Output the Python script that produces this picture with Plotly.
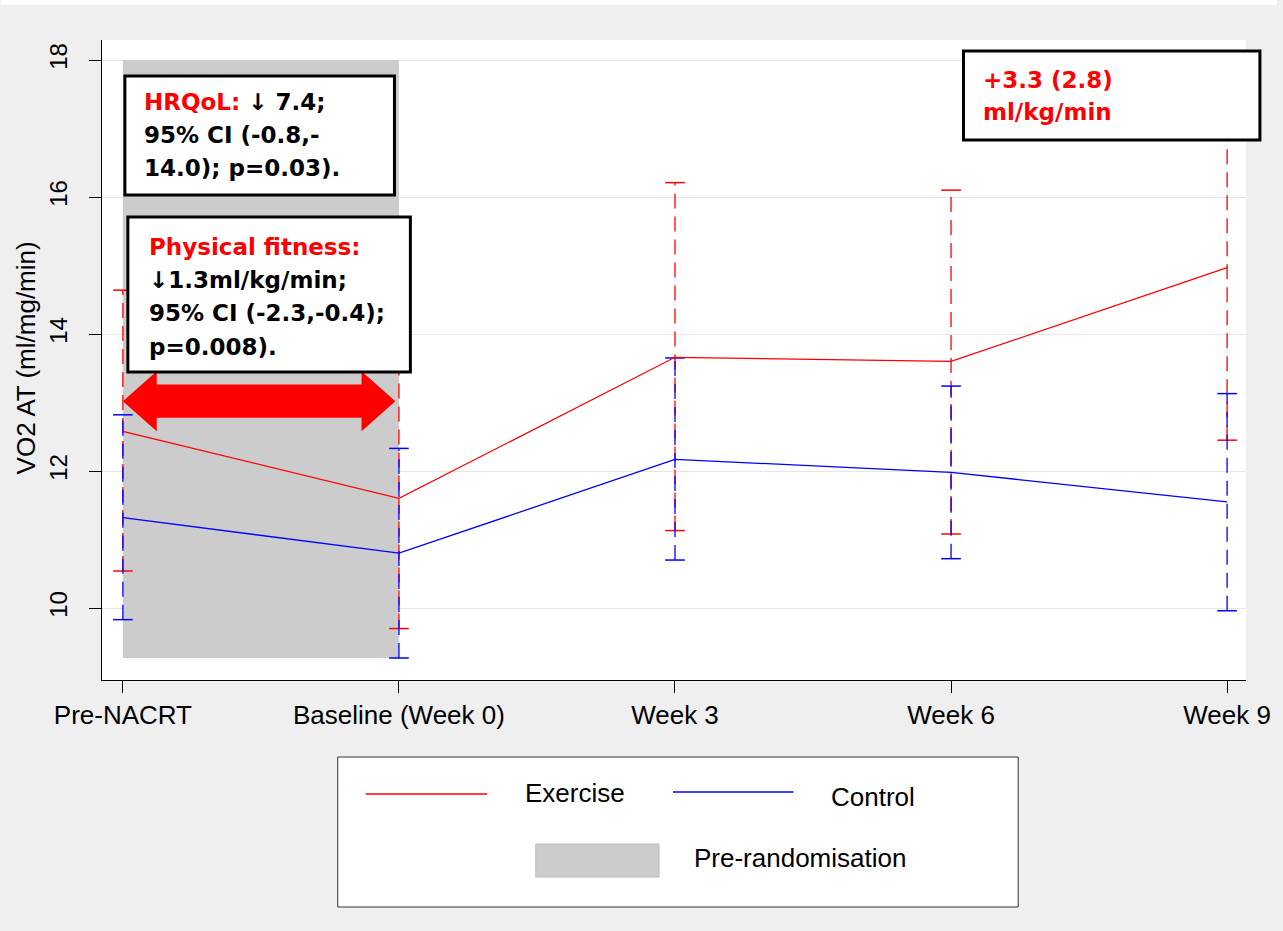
import plotly.graph_objects as go

# Time points and group summaries (mean with 95% CI), VO2 at anaerobic threshold
categories = ["Pre-NACRT", "Baseline (Week 0)", "Week 3", "Week 6", "Week 9"]
exercise_mean = [12.58, 11.60, 13.66, 13.60, 14.97]
exercise_lo = [10.54, 9.70, 11.13, 11.08, 12.45]
exercise_hi = [14.64, 13.50, 16.21, 16.10, 17.49]
control_mean = [11.32, 10.80, 12.17, 11.98, 11.55]
control_lo = [9.83, 9.27, 10.70, 10.72, 9.96]
control_hi = [12.82, 12.33, 13.65, 13.24, 13.13]
y_ticks = [10, 12, 14, 16, 18]

RED = "#ff0000"
BLUE = "#0000ff"
W, H = 1283, 931
L, R, T, B = 102, 1252, 40, 680  # plot area in pixels

xs = list(range(len(categories)))


def px(x):
    return (x - L) / (R - L)


def py(y):
    return (B - y) / (B - T)


def whisker_path(lo, hi):
    xx, yy = [], []
    for i, (a, b) in enumerate(zip(lo, hi)):
        xx += [xs[i], xs[i], None]
        yy += [a, b, None]
    return xx, yy


fig = go.Figure()

for lo, hi, col in [(exercise_lo, exercise_hi, RED), (control_lo, control_hi, BLUE)]:
    wx, wy = whisker_path(lo, hi)
    fig.add_trace(go.Scatter(x=wx, y=wy, mode="lines", showlegend=False,
                             line=dict(color=col, width=1.3, dash="15px,8px"),
                             hoverinfo="skip"))
    fig.add_trace(go.Scatter(x=xs + xs, y=lo + hi, mode="markers", showlegend=False,
                             marker=dict(symbol="line-ew", size=14,
                                         line=dict(color=col, width=1.5)),
                             hoverinfo="skip"))

fig.add_trace(go.Scatter(x=xs, y=exercise_mean, mode="lines", name="Exercise",
                         line=dict(color=RED, width=1.3), showlegend=False))
fig.add_trace(go.Scatter(x=xs, y=control_mean, mode="lines", name="Control",
                         line=dict(color=BLUE, width=1.3), showlegend=False))

shapes = []
# pre-randomisation period
shapes.append(dict(type="rect", xref="x", yref="y", x0=0, x1=1, y0=min(control_lo[:2]), y1=18,
                   fillcolor="#cccccc", line=dict(width=0), layer="between"))

# double-headed arrow across the pre-randomisation period
c, sh, hh = 13.02, 0.241, 0.438
t0, t1 = 0.0, 0.987
hl = 0.1225
arrow = (f"M {t0},{c} L {t0+hl},{c+hh} L {t0+hl},{c+sh} L {t1-hl},{c+sh} L {t1-hl},{c+hh} "
         f"L {t1},{c} L {t1-hl},{c-hh} L {t1-hl},{c-sh} L {t0+hl},{c-sh} L {t0+hl},{c-hh} Z")
shapes.append(dict(type="path", xref="x", yref="y", path=arrow, fillcolor=RED,
                   line=dict(width=0), layer="above"))


def box(x0, y0, x1, y1, lw=3, color="black", fill="white"):
    return dict(type="rect", xref="paper", yref="paper", x0=px(x0), x1=px(x1),
                y0=py(y1), y1=py(y0), fillcolor=fill, line=dict(color=color, width=lw),
                layer="above")


shapes.append(box(125, 76, 396, 195))
shapes.append(box(128, 217, 412, 372))
shapes.append(box(968, 51, 1266, 140))

# legend frame and swatches
shapes.append(box(339, 757, 1023, 907, lw=1, color="#333333"))
shapes.append(dict(type="line", xref="paper", yref="paper", x0=px(367), x1=px(489),
                   y0=py(794), y1=py(794), line=dict(color=RED, width=1.5), layer="above"))
shapes.append(dict(type="line", xref="paper", yref="paper", x0=px(676), x1=px(797),
                   y0=py(792), y1=py(792), line=dict(color=BLUE, width=1.5), layer="above"))
shapes.append(box(538, 844, 662, 877, lw=1, color="#bdbdbd", fill="#cccccc"))
# thin light strip at the top edge
shapes.append(dict(type="rect", xref="paper", yref="paper", x0=px(0), x1=px(W),
                   y0=py(5), y1=py(0), fillcolor="white", line=dict(width=0), layer="below"))

BOX_FONT = "DejaVu Sans"
SANS = "Liberation Sans, Arial"

annotations = []


def text(x, y, s, size=23, color="black", family=BOX_FONT, bold=True, anchor="left"):
    annotations.append(dict(xref="paper", yref="paper", x=px(x), y=py(y), text=(f"<b>{s}</b>" if bold else s),
                            showarrow=False, xanchor=anchor, yanchor="middle",
                            font=dict(family=family, size=size, color=color)))


text(142, 102, "<span style='color:#ff0000'>HRQoL:</span> ↓ 7.4;")
text(142, 135, "95% CI (-0.8,-")
text(142, 168, "14.0); p=0.03).")

text(147, 247, "Physical fitness:", color=RED)
text(147, 280, "↓1.3ml/kg/min;")
text(147, 313, "95% CI (-2.3,-0.4);")
text(147, 347, "p=0.008).")

text(986, 80, "+3.3 (2.8)", color=RED)
text(986, 112, "ml/kg/min", color=RED)

text(525, 793, "Exercise", size=26, family=SANS, bold=False)
text(833, 797, "Control", size=26, family=SANS, bold=False)
text(695, 858, "Pre-randomisation", size=26, family=SANS, bold=False)

annotations.append(dict(xref="paper", yref="paper", x=px(26), y=py(358), text="VO2 AT (ml/mg/min)",
                        textangle=-90, showarrow=False, xanchor="center", yanchor="middle",
                        font=dict(family=SANS, size=26, color="black")))

x_lo = -21 / 277.5
x_hi = 4 + 19 / 277.5
y_lo = 10 - 72 / 68.5
y_hi = 18 + 20 / 68.5

fig.update_layout(
    width=W, height=H,
    margin=dict(l=L, r=W - R, t=T, b=H - B, pad=0),
    paper_bgcolor="#efefef",
    plot_bgcolor="white",
    showlegend=False,
    shapes=shapes,
    annotations=annotations,
    xaxis=dict(range=[x_lo, x_hi], tickmode="array", tickvals=xs, ticktext=categories,
               showgrid=False, zeroline=False, showline=True, linecolor="black", linewidth=1,
               ticks="outside", ticklen=12, tickcolor="black", tickwidth=1,
               tickfont=dict(family=SANS, size=26, color="black"), fixedrange=True),
    yaxis=dict(range=[y_lo, y_hi], tickmode="array", tickvals=y_ticks,
               ticktext=[str(v) for v in y_ticks], tickangle=-90,
               showgrid=True, gridcolor="#e6e6e6", gridwidth=1, zeroline=False,
               showline=True, linecolor="black", linewidth=1,
               ticks="outside", ticklen=12, tickcolor="black", tickwidth=1,
               ticklabelstandoff=12,
               tickfont=dict(family=SANS, size=24, color="black"), fixedrange=True),
)

fig.write_html("out.html")
